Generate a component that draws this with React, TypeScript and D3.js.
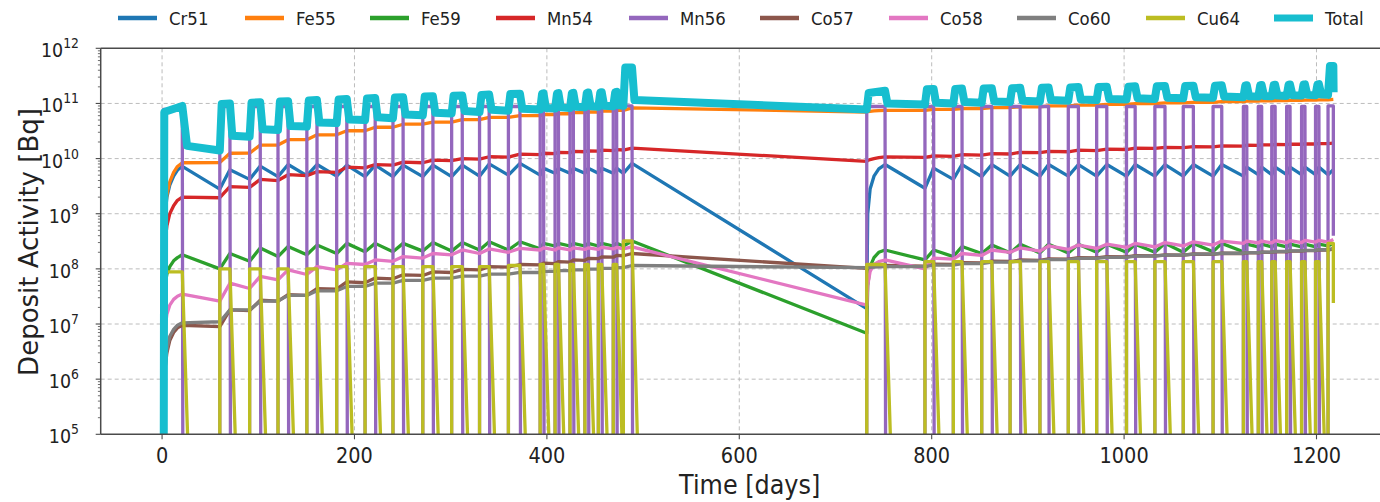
import React from 'react';
import * as d3 from 'd3';

// ---------------- DATA ----------------
const FLOOR = 100; // activity below the visible axis (nuclide absent)
const NUCLIDES = ['Cr51', 'Fe55', 'Fe59', 'Mn54', 'Mn56', 'Co57', 'Co58', 'Co60', 'Cu64', 'Total'];
const COLORS = ['#1f77b4', '#ff7f0e', '#2ca02c', '#d62728', '#9467bd', '#8c564b', '#e377c2', '#7f7f7f', '#bcbd22', '#17becf'];
const X_TICKS = [0, 200, 400, 600, 800, 1000, 1200];
const Y_TICK_EXP = [5, 6, 7, 8, 9, 10, 11, 12];

// operating periods (reactor on) [days]
const ON_DAYS = [1.5, 60, 91, 120.5, 150.5, 181.5, 211, 240, 271, 301, 330, 360, 393, 408.5, 424, 439.5, 453.5, 469, 479.5,
  732.5, 793, 822.5, 852, 881.5, 912.5, 942, 971.5, 1002.5, 1032, 1061.5, 1092.5, 1124, 1139.5, 1153.5, 1169, 1184.5, 1199, 1212];
const OFF_DAYS = [21, 70.5, 102, 131, 161, 192, 221.5, 250.5, 281.5, 312, 340, 372, 396.5, 412, 427.5, 443, 457, 472.5, 488.5,
  751.5, 802, 831.5, 862.5, 892, 921.5, 952.5, 982, 1011.5, 1042.5, 1072, 1101.5, 1127.5, 1143, 1157, 1172.5, 1188, 1202.5, 1217.5];
const RESTART_CYCLE = 19;
const RAMP1_DAYS = [3, 5, 8, 12, 16];
const RAMP2_DAYS = [733.5, 736, 740, 745];

const CR51_START = [FLOOR, 2.8e9, 4.2e9, 4.7e9, 4.9e9, 4.8e9, 4.7e9, 4.7e9, 4.7e9, 4.7e9, 4.8e9, 5.0e9, 5.0e9, 5.4e9, 5.4e9, 5.4e9, 5.4e9, 5.4e9, 5.4e9,
  1.9e7, 2.9e9, 4.2e9, 4.7e9, 4.8e9, 4.8e9, 4.8e9, 4.8e9, 4.8e9, 4.8e9, 4.8e9, 4.8e9, 4.8e9, 5.1e9, 5.1e9, 5.1e9, 5.1e9, 5.1e9, 5.1e9];
const CR51_END = [7.2e9, 6.3e9, 7.3e9, 7.8e9, 7.8e9, 7.6e9, 7.6e9, 7.6e9, 7.6e9, 7.6e9, 8.0e9, 8.2e9, 6.7e9, 6.7e9, 6.7e9, 6.7e9, 6.7e9, 6.7e9, 8.2e9,
  7.8e9, 6.7e9, 7.8e9, 7.8e9, 7.8e9, 7.8e9, 7.8e9, 7.8e9, 7.8e9, 7.8e9, 7.8e9, 7.8e9, 7.0e9, 7.0e9, 7.0e9, 7.0e9, 7.0e9, 7.0e9, 6.3e9];
const CR51_RAMP1 = [9e8, 2.0e9, 3.3e9, 4.8e9, 6.2e9];
const CR51_RAMP2 = [1.0e9, 2.8e9, 4.8e9, 6.5e9];

const FE55_START = [FLOOR, 8.5e9, 1.26e10, 1.76e10, 2.2e10, 2.7e10, 3.2e10, 3.7e10, 4.2e10, 4.6e10, 5.1e10, 5.6e10, 6.0e10, 6.3e10, 6.5e10, 6.8e10, 7.0e10, 7.3e10, 7.5e10,
  7.0e10, 7.5e10, 7.8e10, 8.1e10, 8.4e10, 8.7e10, 9.0e10, 9.3e10, 9.6e10, 9.9e10, 1.02e11, 1.05e11, 1.08e11, 1.1e11, 1.12e11, 1.13e11, 1.14e11, 1.15e11, 1.16e11];
const FE55_END = [8.4e9, 1.25e10, 1.75e10, 2.2e10, 2.7e10, 3.2e10, 3.7e10, 4.2e10, 4.6e10, 5.1e10, 5.6e10, 6.0e10, 6.3e10, 6.5e10, 6.8e10, 7.0e10, 7.3e10, 7.5e10, 8.3e10,
  7.5e10, 7.8e10, 8.1e10, 8.4e10, 8.7e10, 9.0e10, 9.3e10, 9.6e10, 9.9e10, 1.02e11, 1.05e11, 1.08e11, 1.1e11, 1.12e11, 1.13e11, 1.14e11, 1.15e11, 1.16e11, 1.18e11];
const FE55_RAMP1 = [1.0e9, 2.2e9, 3.8e9, 5.6e9, 7.2e9];
const FE55_RAMP2 = [7.1e10, 7.2e10, 7.3e10, 7.4e10];

const FE59_START = [FLOOR, 1.0e8, 1.37e8, 1.67e8, 1.8e8, 1.9e8, 2.05e8, 2.05e8, 2.1e8, 2.1e8, 2.2e8, 2.2e8, 2.3e8, 2.6e8, 2.6e8, 2.6e8, 2.6e8, 2.6e8, 2.6e8,
  6.8e6, 1.45e8, 1.67e8, 1.9e8, 1.95e8, 1.95e8, 1.95e8, 2.0e8, 2.0e8, 2.0e8, 2.0e8, 2.05e8, 2.05e8, 2.5e8, 2.5e8, 2.5e8, 2.5e8, 2.5e8, 2.6e8];
const FE59_END = [1.8e8, 1.9e8, 2.4e8, 2.55e8, 2.7e8, 2.9e8, 2.9e8, 2.9e8, 3.0e8, 3.0e8, 3.1e8, 3.1e8, 2.9e8, 2.9e8, 2.9e8, 2.9e8, 2.9e8, 2.9e8, 3.2e8,
  2.2e8, 2.2e8, 2.55e8, 2.7e8, 2.8e8, 2.8e8, 2.8e8, 2.8e8, 2.8e8, 2.9e8, 2.9e8, 2.9e8, 2.8e8, 2.8e8, 2.8e8, 2.8e8, 2.8e8, 2.8e8, 2.9e8];
const FE59_RAMP1 = [5e7, 8e7, 1.1e8, 1.4e8, 1.6e8];
const FE59_RAMP2 = [5e7, 1.1e8, 1.6e8, 2.0e8];

const MN54_START = [FLOOR, 1.95e9, 3.0e9, 4.0e9, 4.9e9, 5.6e9, 6.8e9, 7.6e9, 8.4e9, 9.2e9, 9.8e9, 1.06e10, 1.18e10, 1.23e10, 1.28e10, 1.33e10, 1.36e10, 1.4e10, 1.43e10,
  8.9e9, 1.05e10, 1.1e10, 1.16e10, 1.21e10, 1.28e10, 1.33e10, 1.4e10, 1.46e10, 1.53e10, 1.58e10, 1.63e10, 1.68e10, 1.74e10, 1.77e10, 1.79e10, 1.82e10, 1.84e10, 1.86e10];
const MN54_END = [2.0e9, 3.1e9, 4.2e9, 5.1e9, 5.8e9, 7.0e9, 7.8e9, 8.6e9, 9.4e9, 1.0e10, 1.08e10, 1.2e10, 1.25e10, 1.3e10, 1.35e10, 1.38e10, 1.42e10, 1.45e10, 1.55e10,
  1.07e10, 1.12e10, 1.18e10, 1.23e10, 1.3e10, 1.35e10, 1.42e10, 1.48e10, 1.55e10, 1.6e10, 1.65e10, 1.7e10, 1.75e10, 1.78e10, 1.8e10, 1.83e10, 1.85e10, 1.87e10, 1.9e10];
const MN54_RAMP1 = [3e8, 6e8, 1.0e9, 1.4e9, 1.75e9];
const MN54_RAMP2 = [9.2e9, 9.6e9, 1.0e10, 1.04e10];

const CO57_START = [FLOOR, 9.0e6, 1.75e7, 2.6e7, 3.3e7, 4.3e7, 5.6e7, 6.6e7, 7.6e7, 8.6e7, 9.6e7, 1.08e8, 1.18e8, 1.25e8, 1.33e8, 1.43e8, 1.53e8, 1.63e8, 1.73e8,
  1.02e8, 1.12e8, 1.2e8, 1.28e8, 1.36e8, 1.43e8, 1.5e8, 1.58e8, 1.65e8, 1.72e8, 1.78e8, 1.84e8, 1.9e8, 1.96e8, 1.99e8, 2.04e8, 2.09e8, 2.14e8, 2.19e8];
const CO57_END = [9.5e6, 1.8e7, 2.7e7, 3.4e7, 4.4e7, 5.8e7, 6.8e7, 7.8e7, 8.8e7, 9.8e7, 1.1e8, 1.2e8, 1.27e8, 1.35e8, 1.45e8, 1.55e8, 1.65e8, 1.75e8, 1.9e8,
  1.15e8, 1.22e8, 1.3e8, 1.38e8, 1.45e8, 1.52e8, 1.6e8, 1.67e8, 1.74e8, 1.8e8, 1.86e8, 1.92e8, 1.97e8, 2.0e8, 2.05e8, 2.1e8, 2.15e8, 2.2e8, 2.3e8];
const CO57_RAMP1 = [1.5e6, 3e6, 5e6, 7e6, 8.5e6];
const CO57_RAMP2 = [1.04e8, 1.07e8, 1.1e8, 1.13e8];

const CO58_START = [FLOOR, 2.6e7, 4.4e7, 6.3e7, 7.9e7, 9.6e7, 1.2e8, 1.37e8, 1.57e8, 1.8e8, 1.9e8, 2.0e8, 2.2e8, 2.2e8, 2.2e8, 2.25e8, 2.25e8, 2.3e8, 2.3e8,
  2.2e7, 1.0e8, 1.5e8, 1.75e8, 2.0e8, 2.1e8, 2.25e8, 2.35e8, 2.45e8, 2.5e8, 2.6e8, 2.7e8, 2.9e8, 2.95e8, 2.95e8, 3.0e8, 3.0e8, 3.05e8, 3.05e8];
const CO58_END = [3.5e7, 5.5e7, 7.3e7, 9.6e7, 1.1e8, 1.26e8, 1.45e8, 1.67e8, 1.9e8, 2.2e8, 2.3e8, 2.35e8, 2.4e8, 2.4e8, 2.4e8, 2.4e8, 2.45e8, 2.45e8, 2.5e8,
  1.45e8, 1.57e8, 1.9e8, 2.2e8, 2.4e8, 2.6e8, 2.7e8, 2.8e8, 2.9e8, 3.0e8, 3.1e8, 3.2e8, 3.2e8, 3.2e8, 3.25e8, 3.25e8, 3.3e8, 3.3e8, 3.4e8];
const CO58_RAMP1 = [8e6, 1.5e7, 2.2e7, 2.8e7, 3.2e7];
const CO58_RAMP2 = [5e7, 9e7, 1.2e8, 1.35e8];

const CO60_START = [FLOOR, 1.1e7, 1.8e7, 2.6e7, 3.3e7, 4.0e7, 4.8e7, 5.5e7, 6.2e7, 6.8e7, 7.4e7, 8.0e7, 8.6e7, 9.0e7, 9.3e7, 9.6e7, 9.9e7, 1.02e8, 1.05e8,
  1.05e8, 1.1e8, 1.17e8, 1.25e8, 1.32e8, 1.4e8, 1.47e8, 1.55e8, 1.62e8, 1.7e8, 1.77e8, 1.85e8, 1.92e8, 1.97e8, 2.02e8, 2.07e8, 2.12e8, 2.17e8, 2.22e8];
const CO60_END = [1.05e7, 1.8e7, 2.6e7, 3.3e7, 4.0e7, 4.8e7, 5.5e7, 6.2e7, 6.8e7, 7.4e7, 8.0e7, 8.6e7, 9.0e7, 9.3e7, 9.6e7, 9.9e7, 1.02e8, 1.05e8, 1.15e8,
  1.1e8, 1.17e8, 1.25e8, 1.32e8, 1.4e8, 1.47e8, 1.55e8, 1.62e8, 1.7e8, 1.77e8, 1.85e8, 1.92e8, 1.97e8, 2.02e8, 2.07e8, 2.12e8, 2.17e8, 2.22e8, 2.35e8];
const CO60_RAMP1 = [1.5e6, 3.5e6, 6e6, 8e6, 9.5e6];
const CO60_RAMP2 = [1.06e8, 1.07e8, 1.08e8, 1.09e8];

// short-lived nuclides: level while operating
const MN56_LEVEL = [7.8e10, 8.8e10, 8.8e10, 8.8e10, 8.8e10, 8.8e10, 8.8e10, 8.8e10, 8.8e10, 8.8e10, 8.8e10, 8.8e10, 8.8e10, 8.8e10, 8.8e10, 8.8e10, 8.8e10, 8.8e10, 9.0e10,
  8.8e10, 8.8e10, 8.8e10, 8.8e10, 8.8e10, 8.8e10, 8.8e10, 8.8e10, 8.8e10, 8.8e10, 8.8e10, 8.8e10, 8.8e10, 8.8e10, 8.8e10, 8.8e10, 8.8e10, 8.8e10, 9.0e10];
const MN56_LAST = 4e8;
const CU64_LEVEL = [8.8e7, 1.0e8, 1.0e8, 1.0e8, 1.0e8, 1.1e8, 1.1e8, 1.1e8, 1.1e8, 1.1e8, 1.1e8, 1.15e8, 1.2e8, 1.2e8, 1.2e8, 1.2e8, 1.2e8, 1.2e8, 3.2e8,
  1.2e8, 1.35e8, 1.35e8, 1.35e8, 1.35e8, 1.35e8, 1.35e8, 1.35e8, 1.35e8, 1.35e8, 1.35e8, 1.35e8, 1.35e8, 1.35e8, 1.35e8, 1.35e8, 1.35e8, 1.35e8, 2.9e8];
const CU64_LAST = 2.4e7;

// Total
const TOTAL_BEFORE = [FLOOR, 1.4e10, 2.5e10, 3.3e10, 3.8e10, 4.4e10, 5.0e10, 5.4e10, 6.1e10, 6.6e10, 7.0e10, 7.4e10, 7.8e10, 8.1e10, 8.3e10, 8.5e10, 8.7e10, 8.9e10, 9.1e10,
  7.8e10, 9.6e10, 1.0e11, 1.03e11, 1.06e11, 1.09e11, 1.12e11, 1.15e11, 1.18e11, 1.21e11, 1.24e11, 1.27e11, 1.3e11, 1.33e11, 1.35e11, 1.37e11, 1.39e11, 1.41e11, 1.43e11];
const TOTAL_PEAK_A = [7.0e10, 9.8e10, 1.03e11, 1.08e11, 1.13e11, 1.18e11, 1.23e11, 1.28e11, 1.33e11, 1.38e11, 1.43e11, 1.48e11, 1.5e11, 1.52e11, 1.54e11, 1.56e11, 1.58e11, 1.6e11, 4.5e11,
  1.55e11, 1.8e11, 1.83e11, 1.86e11, 1.89e11, 1.92e11, 1.95e11, 1.98e11, 2.01e11, 2.04e11, 2.07e11, 2.1e11, 2.12e11, 2.14e11, 2.16e11, 2.18e11, 2.2e11, 2.22e11, 4.8e11];
const TOTAL_PEAK_B = [9.0e10, 1.0e11, 1.05e11, 1.1e11, 1.15e11, 1.2e11, 1.25e11, 1.3e11, 1.35e11, 1.4e11, 1.45e11, 1.5e11, 1.52e11, 1.54e11, 1.56e11, 1.58e11, 1.6e11, 1.62e11, 4.5e11,
  1.7e11, 1.83e11, 1.86e11, 1.89e11, 1.92e11, 1.95e11, 1.98e11, 2.01e11, 2.04e11, 2.07e11, 2.1e11, 2.13e11, 2.14e11, 2.16e11, 2.18e11, 2.2e11, 2.22e11, 2.24e11, 4.8e11];
const TOTAL_AFTER = [1.7e10, 2.6e10, 3.4e10, 3.9e10, 4.5e10, 5.1e10, 5.6e10, 6.3e10, 6.8e10, 7.3e10, 7.7e10, 8.0e10, 8.3e10, 8.5e10, 8.7e10, 8.9e10, 9.1e10, 9.3e10, 1.15e11,
  1.0e11, 1.03e11, 1.06e11, 1.09e11, 1.12e11, 1.15e11, 1.18e11, 1.21e11, 1.24e11, 1.27e11, 1.3e11, 1.33e11, 1.35e11, 1.37e11, 1.39e11, 1.41e11, 1.43e11, 1.45e11, 1.6e11];

// ---------------- LAYOUT ----------------
const W = 1380, H = 502;
const X_LEFT = 100.7, X_RIGHT = 1412.7;
const Y_TOP = 48.3, Y_BOTTOM = 434.3;
const SQ = 0.92; // horizontal text squeeze of the reference
const FONT = 'DejaVu Sans, Verdana, sans-serif';
const LEGEND_X = [118, 245, 370, 496, 629, 760, 889, 1017, 1146, 1274];

type P = [number, number];

function continuous(start: number[], end: number[], r1: number[], r2: number[]): P[] {
  const pts: P[] = [];
  ON_DAYS.forEach((on, i) => {
    pts.push([on, start[i]]);
    if (i === 0) RAMP1_DAYS.forEach((d, k) => pts.push([d, r1[k]]));
    if (i === RESTART_CYCLE) RAMP2_DAYS.forEach((d, k) => pts.push([d, r2[k]]));
    pts.push([OFF_DAYS[i], end[i]]);
  });
  return pts;
}

function pulsed(level: number[], last: number, decay: number): P[] {
  const pts: P[] = [];
  const n = ON_DAYS.length;
  ON_DAYS.forEach((on, i) => {
    pts.push([on, FLOOR], [on, level[i]], [OFF_DAYS[i], level[i]]);
    if (i === n - 1) pts.push([OFF_DAYS[i], last]);
    else if (decay > 1) pts.push([OFF_DAYS[i] + decay, 1e5], [OFF_DAYS[i] + decay + 0.3, FLOOR]);
    else pts.push([OFF_DAYS[i] + decay, FLOOR]);
  });
  return pts;
}

function total(): P[] {
  const pts: P[] = [];
  const n = ON_DAYS.length;
  ON_DAYS.forEach((on, i) => {
    pts.push([on, TOTAL_BEFORE[i]], [on + (i === 0 ? 0.8 : 2), TOTAL_PEAK_A[i]], [OFF_DAYS[i], TOTAL_PEAK_B[i]]);
    if (i === n - 1) pts.push([OFF_DAYS[i] + 0.3, TOTAL_AFTER[i]]);
    else pts.push([OFF_DAYS[i] + (i === 0 ? 5 : 2.5), TOTAL_AFTER[i]]);
  });
  return pts;
}

const SERIES: P[][] = [
  continuous(CR51_START, CR51_END, CR51_RAMP1, CR51_RAMP2),
  continuous(FE55_START, FE55_END, FE55_RAMP1, FE55_RAMP2),
  continuous(FE59_START, FE59_END, FE59_RAMP1, FE59_RAMP2),
  continuous(MN54_START, MN54_END, MN54_RAMP1, MN54_RAMP2),
  pulsed(MN56_LEVEL, MN56_LAST, 0.8),
  continuous(CO57_START, CO57_END, CO57_RAMP1, CO57_RAMP2),
  continuous(CO58_START, CO58_END, CO58_RAMP1, CO58_RAMP2),
  continuous(CO60_START, CO60_END, CO60_RAMP1, CO60_RAMP2),
  pulsed(CU64_LEVEL, CU64_LAST, 5.5),
  total(),
];

const STxt = ({ x, y, anchor = 'start', size, children, rotate = false }: any) => (
  <g transform={rotate ? `translate(${x},${y}) rotate(-90)` : `translate(${x},${y}) scale(${SQ},1)`}>
    <text x={0} y={0} textAnchor={anchor} fontSize={size} fontFamily={FONT} fill="#222">{children}</text>
  </g>
);

export default function App() {
  const x = d3.scaleLinear().domain([-63.8, 1300]).range([X_LEFT, X_RIGHT]);
  const y = d3.scaleLog().domain([1e5, 1e12]).range([Y_BOTTOM, Y_TOP]);
  const line = d3.line<P>().x(d => x(d[0])).y(d => y(Math.max(d[1], 1e-2)));
  const minor: number[] = [];
  for (let e = 5; e < 12; e++) for (let m = 2; m <= 9; m++) minor.push(m * Math.pow(10, e));

  return (
    <svg width={W} height={H} style={{ position: 'absolute', left: 0, top: 0, background: '#fff' }}>
      <defs>
        <clipPath id="plot"><rect x={X_LEFT} y={Y_TOP} width={X_RIGHT - X_LEFT} height={Y_BOTTOM - Y_TOP} /></clipPath>
      </defs>
      {/* grid */}
      <g stroke="#b4b4b4" strokeWidth={0.9} strokeDasharray="4,3">
        {X_TICKS.map(t => <line key={'gx' + t} x1={x(t)} x2={x(t)} y1={Y_TOP} y2={Y_BOTTOM} />)}
        {Y_TICK_EXP.slice(1, -1).map(e => <line key={'gy' + e} x1={X_LEFT} x2={X_RIGHT} y1={y(Math.pow(10, e))} y2={y(Math.pow(10, e))} />)}
      </g>
      {/* series */}
      <g clipPath="url(#plot)" fill="none" strokeLinejoin="round">
        {SERIES.map((pts, i) => (
          <path key={NUCLIDES[i]} d={line(pts) || ''} stroke={COLORS[i]} strokeWidth={NUCLIDES[i] === 'Total' ? 8 : 3.3} />
        ))}
      </g>
      {/* spines */}
      <g stroke="#4a4a4a" strokeWidth={1.5} fill="none">
        <line x1={X_LEFT} x2={X_RIGHT} y1={Y_TOP} y2={Y_TOP} />
        <line x1={X_LEFT} x2={X_RIGHT} y1={Y_BOTTOM} y2={Y_BOTTOM} />
        <line x1={X_LEFT} x2={X_LEFT} y1={Y_TOP} y2={Y_BOTTOM} />
      </g>
      {/* ticks */}
      <g stroke="#4a4a4a" strokeWidth={1.1}>
        {X_TICKS.map(t => <line key={'tx' + t} x1={x(t)} x2={x(t)} y1={Y_BOTTOM} y2={Y_BOTTOM + 5} />)}
        {Y_TICK_EXP.map(e => <line key={'ty' + e} x1={X_LEFT - 5} x2={X_LEFT} y1={y(Math.pow(10, e))} y2={y(Math.pow(10, e))} />)}
        {minor.map(v => <line key={'tm' + v} x1={X_LEFT - 2.8} x2={X_LEFT} y1={y(v)} y2={y(v)} strokeWidth={0.8} />)}
      </g>
      {/* tick labels */}
      {X_TICKS.map(t => <STxt key={'lx' + t} x={x(t)} y={463} anchor="middle" size={21}>{t}</STxt>)}
      {Y_TICK_EXP.map(e => (
        <STxt key={'ly' + e} x={79} y={y(Math.pow(10, e)) + 9} anchor="end" size={19}>
          10<tspan dy={-9} fontSize={13.5}>{e}</tspan>
        </STxt>
      ))}
      {/* axis labels */}
      <STxt x={(X_LEFT + X_RIGHT) / 2 - 7} y={494} anchor="middle" size={26}>Time [days]</STxt>
      <STxt x={38} y={242} anchor="middle" size={26} rotate>Deposit Activity [Bq]</STxt>
      {/* legend */}
      {NUCLIDES.map((n, i) => (
        <g key={'lg' + n}>
          <line x1={LEGEND_X[i]} x2={LEGEND_X[i] + 39} y1={18} y2={18} stroke={COLORS[i]} strokeWidth={n === 'Total' ? 7 : 4.5} />
          <STxt x={LEGEND_X[i] + 51} y={24.5} size={18}>{n}</STxt>
        </g>
      ))}
    </svg>
  );
}
